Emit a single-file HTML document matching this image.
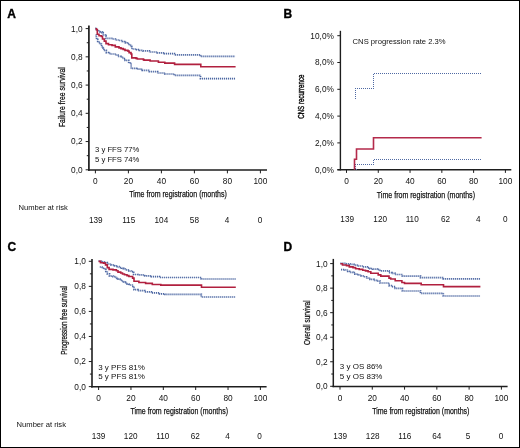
<!DOCTYPE html>
<html><head><meta charset="utf-8"><title>Survival curves</title>
<style>
html,body{margin:0;padding:0;background:#fff;}
body{width:520px;height:448px;overflow:hidden;}
svg{display:block;will-change:transform;}
svg text{font-family:"Liberation Sans", sans-serif;fill:#111;}
svg text.t{stroke:#111;stroke-width:0.25px;}
svg text.lab{fill:#000;stroke:#000;stroke-width:0.35px;}
</style></head>
<body>
<svg width="520" height="448" viewBox="0 0 520 448">
<rect x="0" y="0" width="520" height="448" fill="#fff"/>
<rect x="0.5" y="0.5" width="519" height="447" fill="none" stroke="#000" stroke-width="1"/>
<line x1="88.9" y1="25.6" x2="88.9" y2="170.85" stroke="#1e1e1e" stroke-width="1.7"/>
<line x1="88.0" y1="170.0" x2="267.0" y2="170.0" stroke="#1e1e1e" stroke-width="1.7"/>
<line x1="85.65" y1="169.80" x2="88.90" y2="169.80" stroke="#1e1e1e" stroke-width="1"/>
<text x="82.60" y="172.70" font-size="8.3" text-anchor="end" font-weight="normal" >0,0</text>
<line x1="85.65" y1="141.56" x2="88.90" y2="141.56" stroke="#1e1e1e" stroke-width="1"/>
<text x="82.60" y="144.46" font-size="8.3" text-anchor="end" font-weight="normal" >0,2</text>
<line x1="85.65" y1="113.32" x2="88.90" y2="113.32" stroke="#1e1e1e" stroke-width="1"/>
<text x="82.60" y="116.22" font-size="8.3" text-anchor="end" font-weight="normal" >0,4</text>
<line x1="85.65" y1="85.08" x2="88.90" y2="85.08" stroke="#1e1e1e" stroke-width="1"/>
<text x="82.60" y="87.98" font-size="8.3" text-anchor="end" font-weight="normal" >0,6</text>
<line x1="85.65" y1="56.84" x2="88.90" y2="56.84" stroke="#1e1e1e" stroke-width="1"/>
<text x="82.60" y="59.74" font-size="8.3" text-anchor="end" font-weight="normal" >0,8</text>
<line x1="85.65" y1="28.60" x2="88.90" y2="28.60" stroke="#1e1e1e" stroke-width="1"/>
<text x="82.60" y="31.50" font-size="8.3" text-anchor="end" font-weight="normal" >1,0</text>
<line x1="86.75" y1="155.68" x2="88.90" y2="155.68" stroke="#1e1e1e" stroke-width="1"/>
<line x1="86.75" y1="127.44" x2="88.90" y2="127.44" stroke="#1e1e1e" stroke-width="1"/>
<line x1="86.75" y1="99.20" x2="88.90" y2="99.20" stroke="#1e1e1e" stroke-width="1"/>
<line x1="86.75" y1="70.96" x2="88.90" y2="70.96" stroke="#1e1e1e" stroke-width="1"/>
<line x1="86.75" y1="42.72" x2="88.90" y2="42.72" stroke="#1e1e1e" stroke-width="1"/>
<line x1="95.40" y1="170.00" x2="95.40" y2="173.35" stroke="#1e1e1e" stroke-width="1"/>
<text x="95.40" y="183.60" font-size="8.3" text-anchor="middle" font-weight="normal" >0</text>
<line x1="128.40" y1="170.00" x2="128.40" y2="173.35" stroke="#1e1e1e" stroke-width="1"/>
<text x="128.40" y="183.60" font-size="8.3" text-anchor="middle" font-weight="normal" >20</text>
<line x1="161.40" y1="170.00" x2="161.40" y2="173.35" stroke="#1e1e1e" stroke-width="1"/>
<text x="161.40" y="183.60" font-size="8.3" text-anchor="middle" font-weight="normal" >40</text>
<line x1="194.40" y1="170.00" x2="194.40" y2="173.35" stroke="#1e1e1e" stroke-width="1"/>
<text x="194.40" y="183.60" font-size="8.3" text-anchor="middle" font-weight="normal" >60</text>
<line x1="227.40" y1="170.00" x2="227.40" y2="173.35" stroke="#1e1e1e" stroke-width="1"/>
<text x="227.40" y="183.60" font-size="8.3" text-anchor="middle" font-weight="normal" >80</text>
<line x1="260.40" y1="170.00" x2="260.40" y2="173.35" stroke="#1e1e1e" stroke-width="1"/>
<text x="260.40" y="183.60" font-size="8.3" text-anchor="middle" font-weight="normal" >100</text>
<text x="178.00" y="197.30" font-size="9.8" text-anchor="middle" font-weight="normal" class="t" textLength="97.7" lengthAdjust="spacingAndGlyphs">Time from registration (months)</text>
<text class="t" style="stroke-width:0.25px" transform="translate(65.00,97.10) rotate(-90)" x="0" y="0" font-size="9.3" text-anchor="middle" textLength="60.0" lengthAdjust="spacingAndGlyphs">Failure free survival</text>
<text x="7.30" y="17.60" font-size="12" text-anchor="start" font-weight="bold" class="lab">A</text>
<text x="95.00" y="152.30" font-size="7.7" text-anchor="start" font-weight="normal" >3 y FFS 77%</text>
<text x="95.00" y="161.70" font-size="7.7" text-anchor="start" font-weight="normal" >5 y FFS 74%</text>
<text x="18.50" y="210.10" font-size="7.6" text-anchor="start" font-weight="normal" >Number at risk</text>
<text x="95.80" y="222.50" font-size="8.2" text-anchor="middle" font-weight="normal" >139</text>
<text x="128.70" y="222.50" font-size="8.2" text-anchor="middle" font-weight="normal" >115</text>
<text x="161.40" y="222.50" font-size="8.2" text-anchor="middle" font-weight="normal" >104</text>
<text x="194.40" y="222.50" font-size="8.2" text-anchor="middle" font-weight="normal" >58</text>
<text x="227.10" y="222.50" font-size="8.2" text-anchor="middle" font-weight="normal" >4</text>
<text x="260.00" y="222.50" font-size="8.2" text-anchor="middle" font-weight="normal" >0</text>
<path d="M95.30 28.40H96.50V29.50H97.80V31.00H100.00V31.80H102.00V32.60H103.20V35.00H105.60V35.80H106.00V38.30H112.50V39.00H115.40V40.00H119.00V40.50H122.30V41.50H124.50V42.40H125.50V42.90H128.00V43.60H129.40V45.40H131.50V46.50H131.90V49.00H136.60V49.70H139.40V50.40H143.00V50.80H149.40V52.00H157.30V52.80H164.40V53.70H174.40V54.80H200.50V56.40H235.20" fill="none" stroke="#e0e5f0" stroke-width="1.7"/>
<path d="M95.30 28.40H96.50V29.50H97.80V31.00H100.00V31.80H102.00V32.60H103.20V35.00H105.60V35.80H106.00V38.30H112.50V39.00H115.40V40.00H119.00V40.50H122.30V41.50H124.50V42.40H125.50V42.90H128.00V43.60H129.40V45.40H131.50V46.50H131.90V49.00H136.60V49.70H139.40V50.40H143.00V50.80H149.40V52.00H157.30V52.80H164.40V53.70H174.40V54.80H200.50V56.40H235.20" fill="none" stroke="#4d67a2" stroke-width="1.7" stroke-dasharray="1 1"/>
<path d="M95.60 35.00H96.30V37.60H96.60V39.40H97.70V41.50H99.10V43.30H101.30V44.00H101.60V46.90H103.00V47.90H103.80V50.40H106.30V52.60H108.50V53.30H110.60V54.00H115.60V55.00H118.00V56.40H120.90V57.10H123.00V58.60H125.10V60.40H128.70V62.90H131.20V68.40H136.60V69.10H140.90V69.40H142.30V70.40H149.40V71.70H157.60V73.00H164.80V74.00H174.40V75.30H200.50V78.60H235.20" fill="none" stroke="#e0e5f0" stroke-width="1.7"/>
<path d="M95.60 35.00H96.30V37.60H96.60V39.40H97.70V41.50H99.10V43.30H101.30V44.00H101.60V46.90H103.00V47.90H103.80V50.40H106.30V52.60H108.50V53.30H110.60V54.00H115.60V55.00H118.00V56.40H120.90V57.10H123.00V58.60H125.10V60.40H128.70V62.90H131.20V68.40H136.60V69.10H140.90V69.40H142.30V70.40H149.40V71.70H157.60V73.00H164.80V74.00H174.40V75.30H200.50V78.60H235.20" fill="none" stroke="#4d67a2" stroke-width="1.7" stroke-dasharray="1 1"/>
<path d="M95.50 28.70H96.50V29.70H97.30V34.20H99.00V35.80H101.30V36.50H102.50V39.00H104.30V41.10H106.00V43.60H108.50V44.70H112.00V45.40H115.30V46.90H119.00V47.90H121.00V48.60H123.20V49.40H125.00V50.40H128.00V51.10H129.10V52.60H131.00V54.00H131.80V57.90H136.00V58.40H137.30V59.00H143.30V59.60H144.00V60.10H150.10V61.00H158.40V62.30H164.80V63.10H174.60V64.40H200.80V66.70H235.60" fill="none" stroke="#b1203f" stroke-width="1.6"/>
<line x1="340.4" y1="30.8" x2="340.4" y2="170.39999999999998" stroke="#1e1e1e" stroke-width="1.4"/>
<line x1="337.4" y1="169.7" x2="511.3" y2="169.7" stroke="#1e1e1e" stroke-width="1.4"/>
<line x1="337.30" y1="169.70" x2="340.40" y2="169.70" stroke="#1e1e1e" stroke-width="1"/>
<text x="333.90" y="172.60" font-size="8.3" text-anchor="end" font-weight="normal" >0,0%</text>
<line x1="337.30" y1="142.90" x2="340.40" y2="142.90" stroke="#1e1e1e" stroke-width="1"/>
<text x="333.90" y="145.80" font-size="8.3" text-anchor="end" font-weight="normal" >2,0%</text>
<line x1="337.30" y1="116.10" x2="340.40" y2="116.10" stroke="#1e1e1e" stroke-width="1"/>
<text x="333.90" y="119.00" font-size="8.3" text-anchor="end" font-weight="normal" >4,0%</text>
<line x1="337.30" y1="89.30" x2="340.40" y2="89.30" stroke="#1e1e1e" stroke-width="1"/>
<text x="333.90" y="92.20" font-size="8.3" text-anchor="end" font-weight="normal" >6,0%</text>
<line x1="337.30" y1="62.50" x2="340.40" y2="62.50" stroke="#1e1e1e" stroke-width="1"/>
<text x="333.90" y="65.40" font-size="8.3" text-anchor="end" font-weight="normal" >8,0%</text>
<line x1="337.30" y1="35.70" x2="340.40" y2="35.70" stroke="#1e1e1e" stroke-width="1"/>
<text x="333.90" y="38.60" font-size="8.3" text-anchor="end" font-weight="normal" >10,0%</text>
<line x1="346.50" y1="169.70" x2="346.50" y2="172.90" stroke="#1e1e1e" stroke-width="1"/>
<text x="346.50" y="183.60" font-size="8.3" text-anchor="middle" font-weight="normal" >0</text>
<line x1="378.28" y1="169.70" x2="378.28" y2="172.90" stroke="#1e1e1e" stroke-width="1"/>
<text x="378.28" y="183.60" font-size="8.3" text-anchor="middle" font-weight="normal" >20</text>
<line x1="410.06" y1="169.70" x2="410.06" y2="172.90" stroke="#1e1e1e" stroke-width="1"/>
<text x="410.06" y="183.60" font-size="8.3" text-anchor="middle" font-weight="normal" >40</text>
<line x1="441.84" y1="169.70" x2="441.84" y2="172.90" stroke="#1e1e1e" stroke-width="1"/>
<text x="441.84" y="183.60" font-size="8.3" text-anchor="middle" font-weight="normal" >60</text>
<line x1="473.62" y1="169.70" x2="473.62" y2="172.90" stroke="#1e1e1e" stroke-width="1"/>
<text x="473.62" y="183.60" font-size="8.3" text-anchor="middle" font-weight="normal" >80</text>
<line x1="505.40" y1="169.70" x2="505.40" y2="172.90" stroke="#1e1e1e" stroke-width="1"/>
<text x="505.40" y="183.60" font-size="8.3" text-anchor="middle" font-weight="normal" >100</text>
<text x="425.90" y="197.60" font-size="9.8" text-anchor="middle" font-weight="normal" class="t" textLength="98.2" lengthAdjust="spacingAndGlyphs">Time from registration (months)</text>
<text class="t" style="stroke-width:0.45px" transform="translate(304.00,96.70) rotate(-90)" x="0" y="0" font-size="9.8" text-anchor="middle" textLength="44.2" lengthAdjust="spacingAndGlyphs">CNS recurrence</text>
<text x="283.60" y="18.20" font-size="12" text-anchor="start" font-weight="bold" class="lab">B</text>
<text x="352.60" y="43.90" font-size="7.65" text-anchor="start" font-weight="normal" >CNS progression rate 2.3%</text>
<text x="347.20" y="222.30" font-size="8.2" text-anchor="middle" font-weight="normal" >139</text>
<text x="380.20" y="222.30" font-size="8.2" text-anchor="middle" font-weight="normal" >120</text>
<text x="412.20" y="222.30" font-size="8.2" text-anchor="middle" font-weight="normal" >110</text>
<text x="445.60" y="222.30" font-size="8.2" text-anchor="middle" font-weight="normal" >62</text>
<text x="478.30" y="222.30" font-size="8.2" text-anchor="middle" font-weight="normal" >4</text>
<text x="505.20" y="222.30" font-size="8.2" text-anchor="middle" font-weight="normal" >0</text>
<path d="M355 98h1v1h-1zM355 96h1v1h-1zM355 94h1v1h-1zM355 92h1v1h-1zM355 90h1v1h-1zM355 88h1v1h-1zM357 88h1v1h-1zM359 88h1v1h-1zM361 88h1v1h-1zM363 88h1v1h-1zM365 88h1v1h-1zM367 88h1v1h-1zM369 88h1v1h-1zM371 88h1v1h-1zM373 88h1v1h-1zM373 88h1v1h-1zM373 86h1v1h-1zM373 84h1v1h-1zM373 82h1v1h-1zM373 80h1v1h-1zM373 78h1v1h-1zM373 76h1v1h-1zM373 74h1v1h-1zM374 73h1v1h-1zM376 73h1v1h-1zM378 73h1v1h-1zM380 73h1v1h-1zM382 73h1v1h-1zM384 73h1v1h-1zM386 73h1v1h-1zM388 73h1v1h-1zM390 73h1v1h-1zM392 73h1v1h-1zM394 73h1v1h-1zM396 73h1v1h-1zM398 73h1v1h-1zM400 73h1v1h-1zM402 73h1v1h-1zM404 73h1v1h-1zM406 73h1v1h-1zM408 73h1v1h-1zM410 73h1v1h-1zM412 73h1v1h-1zM414 73h1v1h-1zM416 73h1v1h-1zM418 73h1v1h-1zM420 73h1v1h-1zM422 73h1v1h-1zM424 73h1v1h-1zM426 73h1v1h-1zM428 73h1v1h-1zM430 73h1v1h-1zM432 73h1v1h-1zM434 73h1v1h-1zM436 73h1v1h-1zM438 73h1v1h-1zM440 73h1v1h-1zM442 73h1v1h-1zM444 73h1v1h-1zM446 73h1v1h-1zM448 73h1v1h-1zM450 73h1v1h-1zM452 73h1v1h-1zM454 73h1v1h-1zM456 73h1v1h-1zM458 73h1v1h-1zM460 73h1v1h-1zM462 73h1v1h-1zM464 73h1v1h-1zM466 73h1v1h-1zM468 73h1v1h-1zM470 73h1v1h-1zM472 73h1v1h-1zM474 73h1v1h-1zM476 73h1v1h-1zM478 73h1v1h-1zM480 73h1v1h-1z" fill="#4f69a3"/>
<path d="M356 169h1v1h-1zM355 168h1v1h-1zM355 166h1v1h-1zM355 164h1v1h-1zM357 164h1v1h-1zM359 164h1v1h-1zM361 164h1v1h-1zM363 164h1v1h-1zM365 164h1v1h-1zM367 164h1v1h-1zM369 164h1v1h-1zM371 164h1v1h-1zM373 164h1v1h-1zM373 164h1v1h-1zM373 162h1v1h-1zM373 160h1v1h-1zM374 159h1v1h-1zM376 159h1v1h-1zM378 159h1v1h-1zM380 159h1v1h-1zM382 159h1v1h-1zM384 159h1v1h-1zM386 159h1v1h-1zM388 159h1v1h-1zM390 159h1v1h-1zM392 159h1v1h-1zM394 159h1v1h-1zM396 159h1v1h-1zM398 159h1v1h-1zM400 159h1v1h-1zM402 159h1v1h-1zM404 159h1v1h-1zM406 159h1v1h-1zM408 159h1v1h-1zM410 159h1v1h-1zM412 159h1v1h-1zM414 159h1v1h-1zM416 159h1v1h-1zM418 159h1v1h-1zM420 159h1v1h-1zM422 159h1v1h-1zM424 159h1v1h-1zM426 159h1v1h-1zM428 159h1v1h-1zM430 159h1v1h-1zM432 159h1v1h-1zM434 159h1v1h-1zM436 159h1v1h-1zM438 159h1v1h-1zM440 159h1v1h-1zM442 159h1v1h-1zM444 159h1v1h-1zM446 159h1v1h-1zM448 159h1v1h-1zM450 159h1v1h-1zM452 159h1v1h-1zM454 159h1v1h-1zM456 159h1v1h-1zM458 159h1v1h-1zM460 159h1v1h-1zM462 159h1v1h-1zM464 159h1v1h-1zM466 159h1v1h-1zM468 159h1v1h-1zM470 159h1v1h-1zM472 159h1v1h-1zM474 159h1v1h-1zM476 159h1v1h-1zM478 159h1v1h-1zM480 159h1v1h-1z" fill="#4f69a3"/>
<path d="M354.50 169.70H354.50V159.30H356.50V149.00H373.50V137.70H481.60" fill="none" stroke="#b42a4b" stroke-width="1.6"/>
<line x1="92.0" y1="259.1" x2="92.0" y2="387.5" stroke="#1e1e1e" stroke-width="1.6"/>
<line x1="91.0" y1="386.7" x2="266.6" y2="386.7" stroke="#1e1e1e" stroke-width="1.6"/>
<line x1="88.80" y1="386.60" x2="92.00" y2="386.60" stroke="#1e1e1e" stroke-width="1"/>
<text x="85.90" y="389.50" font-size="8.3" text-anchor="end" font-weight="normal" >0,0</text>
<line x1="88.80" y1="361.54" x2="92.00" y2="361.54" stroke="#1e1e1e" stroke-width="1"/>
<text x="85.90" y="364.44" font-size="8.3" text-anchor="end" font-weight="normal" >0,2</text>
<line x1="88.80" y1="336.48" x2="92.00" y2="336.48" stroke="#1e1e1e" stroke-width="1"/>
<text x="85.90" y="339.38" font-size="8.3" text-anchor="end" font-weight="normal" >0,4</text>
<line x1="88.80" y1="311.42" x2="92.00" y2="311.42" stroke="#1e1e1e" stroke-width="1"/>
<text x="85.90" y="314.32" font-size="8.3" text-anchor="end" font-weight="normal" >0,6</text>
<line x1="88.80" y1="286.36" x2="92.00" y2="286.36" stroke="#1e1e1e" stroke-width="1"/>
<text x="85.90" y="289.26" font-size="8.3" text-anchor="end" font-weight="normal" >0,8</text>
<line x1="88.80" y1="261.30" x2="92.00" y2="261.30" stroke="#1e1e1e" stroke-width="1"/>
<text x="85.90" y="264.20" font-size="8.3" text-anchor="end" font-weight="normal" >1,0</text>
<line x1="89.90" y1="374.07" x2="92.00" y2="374.07" stroke="#1e1e1e" stroke-width="1"/>
<line x1="89.90" y1="349.01" x2="92.00" y2="349.01" stroke="#1e1e1e" stroke-width="1"/>
<line x1="89.90" y1="323.95" x2="92.00" y2="323.95" stroke="#1e1e1e" stroke-width="1"/>
<line x1="89.90" y1="298.89" x2="92.00" y2="298.89" stroke="#1e1e1e" stroke-width="1"/>
<line x1="89.90" y1="273.83" x2="92.00" y2="273.83" stroke="#1e1e1e" stroke-width="1"/>
<line x1="98.60" y1="386.70" x2="98.60" y2="390.00" stroke="#1e1e1e" stroke-width="1"/>
<text x="98.60" y="400.70" font-size="8.3" text-anchor="middle" font-weight="normal" >0</text>
<line x1="130.96" y1="386.70" x2="130.96" y2="390.00" stroke="#1e1e1e" stroke-width="1"/>
<text x="130.96" y="400.70" font-size="8.3" text-anchor="middle" font-weight="normal" >20</text>
<line x1="163.32" y1="386.70" x2="163.32" y2="390.00" stroke="#1e1e1e" stroke-width="1"/>
<text x="163.32" y="400.70" font-size="8.3" text-anchor="middle" font-weight="normal" >40</text>
<line x1="195.68" y1="386.70" x2="195.68" y2="390.00" stroke="#1e1e1e" stroke-width="1"/>
<text x="195.68" y="400.70" font-size="8.3" text-anchor="middle" font-weight="normal" >60</text>
<line x1="228.04" y1="386.70" x2="228.04" y2="390.00" stroke="#1e1e1e" stroke-width="1"/>
<text x="228.04" y="400.70" font-size="8.3" text-anchor="middle" font-weight="normal" >80</text>
<line x1="260.40" y1="386.70" x2="260.40" y2="390.00" stroke="#1e1e1e" stroke-width="1"/>
<text x="260.40" y="400.70" font-size="8.3" text-anchor="middle" font-weight="normal" >100</text>
<text x="179.20" y="414.20" font-size="9.8" text-anchor="middle" font-weight="normal" class="t" textLength="97.6" lengthAdjust="spacingAndGlyphs">Time from registration (months)</text>
<text class="t" style="stroke-width:0.25px" transform="translate(67.00,320.40) rotate(-90)" x="0" y="0" font-size="8.2" text-anchor="middle" textLength="68.8" lengthAdjust="spacingAndGlyphs">Progression free survival</text>
<text x="7.40" y="251.20" font-size="12" text-anchor="start" font-weight="bold" class="lab">C</text>
<text x="98.20" y="369.80" font-size="8.0" text-anchor="start" font-weight="normal" >3 y PFS 81%</text>
<text x="98.20" y="378.80" font-size="8.0" text-anchor="start" font-weight="normal" >5 y PFS 81%</text>
<text x="16.60" y="426.90" font-size="7.6" text-anchor="start" font-weight="normal" >Number at risk</text>
<text x="98.50" y="438.90" font-size="8.2" text-anchor="middle" font-weight="normal" >139</text>
<text x="130.70" y="438.90" font-size="8.2" text-anchor="middle" font-weight="normal" >120</text>
<text x="162.80" y="438.90" font-size="8.2" text-anchor="middle" font-weight="normal" >110</text>
<text x="195.30" y="438.90" font-size="8.2" text-anchor="middle" font-weight="normal" >62</text>
<text x="227.50" y="438.90" font-size="8.2" text-anchor="middle" font-weight="normal" >4</text>
<text x="259.60" y="438.90" font-size="8.2" text-anchor="middle" font-weight="normal" >0</text>
<path d="M98.60 261.00H102.00V261.80H105.50V262.70H107.30V264.00H111.00V264.90H114.50V265.80H117.20V266.70H119.00V267.60H121.70V268.20H123.50V269.00H125.30V269.80H128.80V271.00H131.00V271.60H133.00V272.40H133.60V274.50H138.00V274.90H144.70V275.80H151.40V276.60H159.50V277.50H201.30V279.00H235.80" fill="none" stroke="#e0e5f0" stroke-width="1.7"/>
<path d="M98.60 261.00H102.00V261.80H105.50V262.70H107.30V264.00H111.00V264.90H114.50V265.80H117.20V266.70H119.00V267.60H121.70V268.20H123.50V269.00H125.30V269.80H128.80V271.00H131.00V271.60H133.00V272.40H133.60V274.50H138.00V274.90H144.70V275.80H151.40V276.60H159.50V277.50H201.30V279.00H235.80" fill="none" stroke="#4d67a2" stroke-width="1.7" stroke-dasharray="1 1"/>
<path d="M99.80 267.00H102.00V268.10H104.60V269.40H105.80V271.50H107.30V273.90H109.50V276.10H113.00V276.60H115.40V277.40H117.00V278.30H118.20V279.20H120.00V280.10H121.80V281.00H123.60V282.10H125.40V283.20H127.20V284.10H128.90V285.00H132.90V286.50H134.00V289.70H138.00V290.60H144.70V291.90H151.40V292.80H159.50V293.80H165.00V294.40H201.30V297.00H235.80" fill="none" stroke="#e0e5f0" stroke-width="1.7"/>
<path d="M99.80 267.00H102.00V268.10H104.60V269.40H105.80V271.50H107.30V273.90H109.50V276.10H113.00V276.60H115.40V277.40H117.00V278.30H118.20V279.20H120.00V280.10H121.80V281.00H123.60V282.10H125.40V283.20H127.20V284.10H128.90V285.00H132.90V286.50H134.00V289.70H138.00V290.60H144.70V291.90H151.40V292.80H159.50V293.80H165.00V294.40H201.30V297.00H235.80" fill="none" stroke="#4d67a2" stroke-width="1.7" stroke-dasharray="1 1"/>
<path d="M98.60 261.40H100.50V262.70H103.50V263.10H105.50V264.90H107.30V267.60H109.10V269.40H113.00V269.90H116.40V270.70H118.00V272.10H120.70V273.00H122.50V274.00H124.50V274.80H127.00V275.60H128.90V276.50H132.60V278.10H134.00V281.20H138.90V282.50H145.60V283.40H152.30V284.50H160.80V285.10H201.50V287.20H235.80" fill="none" stroke="#b1203f" stroke-width="1.6"/>
<line x1="333.3" y1="258.9" x2="333.3" y2="387.15" stroke="#1e1e1e" stroke-width="1.5"/>
<line x1="332.5" y1="386.4" x2="507.6" y2="386.4" stroke="#1e1e1e" stroke-width="1.5"/>
<line x1="330.15" y1="386.30" x2="333.30" y2="386.30" stroke="#1e1e1e" stroke-width="1"/>
<text x="327.60" y="389.20" font-size="8.3" text-anchor="end" font-weight="normal" >0,0</text>
<line x1="330.15" y1="361.76" x2="333.30" y2="361.76" stroke="#1e1e1e" stroke-width="1"/>
<text x="327.60" y="364.66" font-size="8.3" text-anchor="end" font-weight="normal" >0,2</text>
<line x1="330.15" y1="337.22" x2="333.30" y2="337.22" stroke="#1e1e1e" stroke-width="1"/>
<text x="327.60" y="340.12" font-size="8.3" text-anchor="end" font-weight="normal" >0,4</text>
<line x1="330.15" y1="312.68" x2="333.30" y2="312.68" stroke="#1e1e1e" stroke-width="1"/>
<text x="327.60" y="315.58" font-size="8.3" text-anchor="end" font-weight="normal" >0,6</text>
<line x1="330.15" y1="288.14" x2="333.30" y2="288.14" stroke="#1e1e1e" stroke-width="1"/>
<text x="327.60" y="291.04" font-size="8.3" text-anchor="end" font-weight="normal" >0,8</text>
<line x1="330.15" y1="263.60" x2="333.30" y2="263.60" stroke="#1e1e1e" stroke-width="1"/>
<text x="327.60" y="266.50" font-size="8.3" text-anchor="end" font-weight="normal" >1,0</text>
<line x1="331.25" y1="374.03" x2="333.30" y2="374.03" stroke="#1e1e1e" stroke-width="1"/>
<line x1="331.25" y1="349.49" x2="333.30" y2="349.49" stroke="#1e1e1e" stroke-width="1"/>
<line x1="331.25" y1="324.95" x2="333.30" y2="324.95" stroke="#1e1e1e" stroke-width="1"/>
<line x1="331.25" y1="300.41" x2="333.30" y2="300.41" stroke="#1e1e1e" stroke-width="1"/>
<line x1="331.25" y1="275.87" x2="333.30" y2="275.87" stroke="#1e1e1e" stroke-width="1"/>
<line x1="340.00" y1="386.40" x2="340.00" y2="389.65" stroke="#1e1e1e" stroke-width="1"/>
<text x="340.00" y="400.80" font-size="8.3" text-anchor="middle" font-weight="normal" >0</text>
<line x1="372.28" y1="386.40" x2="372.28" y2="389.65" stroke="#1e1e1e" stroke-width="1"/>
<text x="372.28" y="400.80" font-size="8.3" text-anchor="middle" font-weight="normal" >20</text>
<line x1="404.56" y1="386.40" x2="404.56" y2="389.65" stroke="#1e1e1e" stroke-width="1"/>
<text x="404.56" y="400.80" font-size="8.3" text-anchor="middle" font-weight="normal" >40</text>
<line x1="436.84" y1="386.40" x2="436.84" y2="389.65" stroke="#1e1e1e" stroke-width="1"/>
<text x="436.84" y="400.80" font-size="8.3" text-anchor="middle" font-weight="normal" >60</text>
<line x1="469.12" y1="386.40" x2="469.12" y2="389.65" stroke="#1e1e1e" stroke-width="1"/>
<text x="469.12" y="400.80" font-size="8.3" text-anchor="middle" font-weight="normal" >80</text>
<line x1="501.40" y1="386.40" x2="501.40" y2="389.65" stroke="#1e1e1e" stroke-width="1"/>
<text x="501.40" y="400.80" font-size="8.3" text-anchor="middle" font-weight="normal" >100</text>
<text x="420.80" y="414.20" font-size="9.8" text-anchor="middle" font-weight="normal" class="t" textLength="97.2" lengthAdjust="spacingAndGlyphs">Time from registration (months)</text>
<text class="t" style="stroke-width:0.25px" transform="translate(309.60,322.70) rotate(-90)" x="0" y="0" font-size="8.6" text-anchor="middle" textLength="44.6" lengthAdjust="spacingAndGlyphs">Overall survival</text>
<text x="283.60" y="250.80" font-size="12" text-anchor="start" font-weight="bold" class="lab">D</text>
<text x="339.80" y="369.20" font-size="8.0" text-anchor="start" font-weight="normal" >3 y OS 86%</text>
<text x="339.80" y="378.50" font-size="8.0" text-anchor="start" font-weight="normal" >5 y OS 83%</text>
<text x="340.20" y="439.00" font-size="8.2" text-anchor="middle" font-weight="normal" >139</text>
<text x="372.70" y="439.00" font-size="8.2" text-anchor="middle" font-weight="normal" >128</text>
<text x="404.90" y="439.00" font-size="8.2" text-anchor="middle" font-weight="normal" >116</text>
<text x="436.70" y="439.00" font-size="8.2" text-anchor="middle" font-weight="normal" >64</text>
<text x="468.10" y="439.00" font-size="8.2" text-anchor="middle" font-weight="normal" >5</text>
<text x="501.00" y="439.00" font-size="8.2" text-anchor="middle" font-weight="normal" >0</text>
<path d="M340.40 263.40H346.00V263.90H350.00V264.30H354.00V265.10H358.40V266.00H362.90V266.90H367.40V267.80H370.00V268.70H373.00V269.10H377.40V269.60H380.00V270.90H389.00V272.70H392.00V273.40H395.20V274.50H402.40V276.10H420.50V277.60H443.30V278.90H480.20" fill="none" stroke="#e0e5f0" stroke-width="1.7"/>
<path d="M340.40 263.40H346.00V263.90H350.00V264.30H354.00V265.10H358.40V266.00H362.90V266.90H367.40V267.80H370.00V268.70H373.00V269.10H377.40V269.60H380.00V270.90H389.00V272.70H392.00V273.40H395.20V274.50H402.40V276.10H420.50V277.60H443.30V278.90H480.20" fill="none" stroke="#4d67a2" stroke-width="1.7" stroke-dasharray="1 1"/>
<path d="M341.00 269.60H345.00V270.00H347.70V271.40H349.50V272.30H353.10V272.70H354.90V274.10H358.40V275.00H361.10V275.90H363.80V276.75H366.50V278.10H370.00V279.40H374.00V280.30H377.40V281.20H380.00V283.00H389.00V285.70H392.00V286.60H395.20V288.30H402.40V291.00H420.50V293.30H443.30V296.00H480.20" fill="none" stroke="#e0e5f0" stroke-width="1.7"/>
<path d="M341.00 269.60H345.00V270.00H347.70V271.40H349.50V272.30H353.10V272.70H354.90V274.10H358.40V275.00H361.10V275.90H363.80V276.75H366.50V278.10H370.00V279.40H374.00V280.30H377.40V281.20H380.00V283.00H389.00V285.70H392.00V286.60H395.20V288.30H402.40V291.00H420.50V293.30H443.30V296.00H480.20" fill="none" stroke="#4d67a2" stroke-width="1.7" stroke-dasharray="1 1"/>
<path d="M340.40 263.80H342.50V265.00H346.50V265.60H349.30V266.90H353.00V267.60H355.60V268.70H359.20V269.40H362.80V270.30H365.50V270.90H368.10V271.80H370.80V273.30H378.20V274.90H380.80V276.10H389.00V278.10H390.70V279.00H395.20V280.80H401.90V282.50H404.50V283.40H421.20V284.70H443.50V286.60H480.40" fill="none" stroke="#b1203f" stroke-width="1.6"/>
</svg>
</body></html>
